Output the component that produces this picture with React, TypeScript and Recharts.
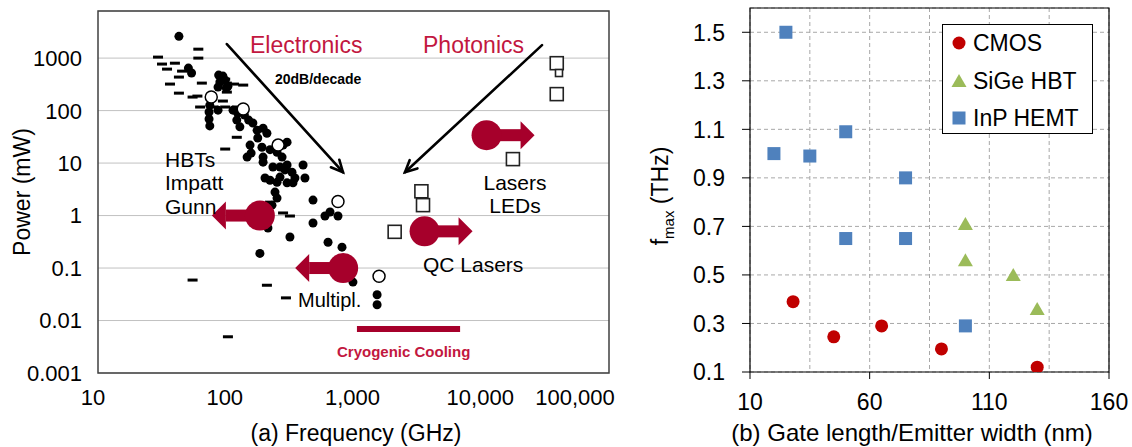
import React from 'react';
import {
  ScatterChart, Scatter, XAxis, YAxis, CartesianGrid,
  ReferenceLine, ReferenceArea, ReferenceDot, Legend,
} from 'recharts';

const FONT = '"Liberation Sans", Arial, Helvetica, sans-serif';
const CRIMSON = '#A6002B';
const CRIMSON_TEXT = '#C21740';

// ---- (a) output power vs frequency, [GHz, mW] ----
const solidStateDots: [number, number][] = [
  [43, 2600],
  [51, 645], [54, 520],
  [88, 475], [95, 455], [90, 350], [99, 380], [87, 280], [104, 290], [101, 270],
  [75, 127], [74, 94], [74, 69], [75, 51], [87, 102],
  [114, 102], [124, 90], [140, 82], [122, 66], [151, 66], [129, 49],
  [163, 58], [176, 42], [196, 46], [210, 37], [178, 30],
  [155, 22], [158, 15.5], [147, 13], [192, 20], [196, 13], [252, 16], [276, 13], [281, 22], [302, 25], [222, 18],
  [196, 10.4], [234, 8.4], [266, 8.4], [302, 9.2], [403, 9.2], [291, 7.4],
  [417, 5.2], [203, 5.2], [222, 4.7], [266, 5.4], [252, 4.3], [302, 4.2], [330, 6.7], [336, 4.2], [348, 5.2],
  [243, 2.8], [252, 2.15], [230, 1.58],
  [214, 0.58], [318, 0.39], [185, 0.19],
  [482, 1.97], [482, 0.72], [598, 0.98], [655, 1.17], [756, 0.98],
  [632, 0.31], [813, 0.25],
  [990, 0.054], [1530, 0.031], [1530, 0.02],
];

const dashMarks: [number, number][] = [
  [29.5, 1045], [61, 1480], [61, 1000], [31.7, 770], [40, 800], [34.7, 617],
  [45.5, 565], [43, 435], [36.6, 320], [43, 215], [65, 334], [60, 189],
  [99, 398], [102, 334], [137, 306], [116, 320], [102, 225], [95, 152],
  [63, 117], [80, 117], [99, 117], [122, 117], [55, 181], [122, 31], [99, 18.5],
  [222, 1.8], [281, 1.12], [318, 0.98],
  [55, 0.059], [210, 0.047], [296, 0.027], [104, 0.0049],
];

const openCircles: [number, number][] = [
  [77, 181], [137, 107], [257, 22], [756, 1.85], [1585, 0.07],
];

const laserSquares: [number, number][] = [
  [2100, 0.49], [3400, 2.9], [3500, 1.58], [17700, 11.9], [39000, 800], [39000, 206],
];
const laserSmall: [number, number][] = [[40600, 520]];

// crimson "pin" arrows: head points toward lower / higher frequency
const pinsLeft: [number, number][] = [[185, 1], [830, 0.1]];
const pinsRight: [number, number][] = [[3600, 0.5], [11000, 34]];

const electronicsArrow: [number, number][] = [[102, 1850], [827, 6.7]];
const photonicsArrow: [number, number][] = [[29900, 1770], [2530, 6.7]];
const cryoBand: [number, number][] = [[1064, 0.0069], [6830, 0.0069]];

const freqTicks = [10, 100, 1000, 10000, 100000];
const powerTicks = [0.001, 0.01, 0.1, 1, 10, 100, 1000];

// ---- (b) fmax vs gate length / emitter width, [nm, THz] ----
const cmosPts: [number, number][] = [[28, 0.39], [45, 0.245], [65, 0.29], [90, 0.195], [130, 0.12]];
const sigePts: [number, number][] = [[100, 0.71], [100, 0.56], [120, 0.5], [130, 0.36]];
const inpPts: [number, number][] = [
  [25, 1.5], [20, 1.0], [35, 0.99], [50, 1.09], [75, 0.9], [50, 0.65], [75, 0.65], [100, 0.29],
];
const gateTicks = [10, 35, 60, 85, 110, 135, 160];
const gateLabels = [10, 60, 110, 160];
const fmaxTicks = [0.1, 0.3, 0.5, 0.7, 0.9, 1.1, 1.3, 1.5];

const legendItems = [
  { name: 'CMOS', kind: 'circle', color: '#C00000' },
  { name: 'SiGe HBT', kind: 'triangle', color: '#9BBB59' },
  { name: 'InP HEMT', kind: 'square', color: '#4F81BD' },
];

const fp = (pts: [number, number][]) => pts.map(([f, p]) => ({ f, p }));
const gf = (pts: [number, number][]) => pts.map(([g, fmax]) => ({ g, fmax }));
const seg = (pts: [number, number][]) => pts.map(([x, y]) => ({ x, y }));

// marker shapes
const blackDot = (p: any) => <circle cx={p.cx} cy={p.cy} r={4.5} fill="#000" />;
const dash = (p: any) => <rect x={p.cx - 5} y={p.cy - 1.5} width={10} height={3} fill="#000" />;
const ring = (p: any) => (
  <circle cx={p.cx} cy={p.cy} r={6} fill="#fff" stroke="#000" strokeWidth={1.5} />
);
const openSquare = (s: number) => (p: any) => (
  <rect x={p.cx - s / 2} y={p.cy - s / 2} width={s} height={s} fill="#fff" stroke="#222" strokeWidth={1.6} />
);

const pin = (dir: 1 | -1) => (p: any) => {
  const { cx, cy } = p;
  const tip = cx + dir * 48;
  const base = cx + dir * 34;
  return (
    <g fill={CRIMSON}>
      <rect x={dir > 0 ? cx : base} y={cy - 6} width={35} height={12} />
      <polygon points={`${tip},${cy} ${base},${cy - 14} ${base},${cy + 14}`} />
      <circle cx={cx} cy={cy} r={15} />
    </g>
  );
};

const arrowLine = (p: any) => {
  const { x1, y1, x2, y2 } = p;
  const a = Math.atan2(y2 - y1, x2 - x1);
  const L = 13;
  const s = 0.45;
  const h1 = `${x2 - L * Math.cos(a - s)},${y2 - L * Math.sin(a - s)}`;
  const h2 = `${x2 - L * Math.cos(a + s)},${y2 - L * Math.sin(a + s)}`;
  return (
    <g stroke="#000" strokeWidth={2.6} fill="none" strokeLinecap="round">
      <line x1={x1} y1={y1} x2={x2} y2={y2} />
      <polyline points={`${h1} ${x2},${y2} ${h2}`} />
    </g>
  );
};

const redDot = (p: any) => <circle cx={p.cx} cy={p.cy} r={6.5} fill="#C00000" />;
const greenTri = (p: any) => (
  <polygon points={`${p.cx},${p.cy - 7} ${p.cx + 7.5},${p.cy + 6} ${p.cx - 7.5},${p.cy + 6}`} fill="#9BBB59" />
);
const blueSq = (p: any) => <rect x={p.cx - 6.5} y={p.cy - 6.5} width={13} height={13} fill="#4F81BD" />;

const FreqTick = ({ x, y, payload, index }: any) => {
  const shift = index === 0 ? -5 : index === freqTicks.length - 1 ? -21 : -1;
  return (
    <text x={x + shift} y={y + 24} textAnchor="middle" fontSize={22} fontFamily={FONT} fill="#000">
      {Number(payload.value).toLocaleString('en-US')}
    </text>
  );
};

const PowerTick = ({ x, y, payload }: any) => (
  <text x={x - 8} y={y} dy="0.36em" textAnchor="end" fontSize={22} fontFamily={FONT} fill="#000">
    {String(payload.value)}
  </text>
);

const GateTick = ({ x, y, payload }: any) => {
  if (!gateLabels.includes(payload.value)) return null;
  return (
    <g>
      <line x1={x} y1={y - 8} x2={x} y2={y - 1} stroke="#000" />
      <text x={x} y={y + 30} textAnchor="middle" fontSize={23} fontFamily={FONT} fill="#000">
        {payload.value}
      </text>
    </g>
  );
};

const FmaxTick = ({ x, y, payload }: any) => (
  <text x={x - 15} y={y} dy="0.36em" textAnchor="end" fontSize={23} fontFamily={FONT} fill="#000">
    {Number(payload.value).toFixed(1)}
  </text>
);

const LegendBox = () => (
  <div style={{
    position: 'relative', width: 151, height: 110, boxSizing: 'border-box',
    border: '1px solid #000', background: '#fff', fontFamily: FONT, fontSize: 23,
  }}>
    {legendItems.map((it, i) => (
      <div key={it.name} style={{ position: 'absolute', left: 0, top: 5 + i * 37.5, height: 26, display: 'flex', alignItems: 'center' }}>
        <svg width={30} height={26}>
          {it.kind === 'circle' && <circle cx={16} cy={13} r={6.5} fill={it.color} />}
          {it.kind === 'triangle' && <polygon points="16,6 23.5,19 8.5,19" fill={it.color} />}
          {it.kind === 'square' && <rect x={9.5} y={6.5} width={13} height={13} fill={it.color} />}
        </svg>
        <span style={{ color: '#000', lineHeight: '26px' }}>{it.name}</span>
      </div>
    ))}
  </div>
);

const txt = { fontFamily: FONT, fill: '#000' } as const;

export default function App() {
  return (
    <div style={{ position: 'absolute', left: 0, top: 0, width: 1132, height: 447, background: '#fff' }}>
      <div style={{ position: 'absolute', left: 0, top: 0 }}>
        <ScatterChart width={620} height={447} margin={{ top: 11, right: 11, bottom: 44, left: 0 }}>
          <CartesianGrid vertical={false} stroke="#c2c2c2" />
          <XAxis
            dataKey="f" type="number" scale="log" domain={[10, 100000]} allowDataOverflow
            ticks={freqTicks} height={30} axisLine={false} tickLine={false} tick={<FreqTick />}
          />
          <YAxis
            dataKey="p" type="number" scale="log" domain={[0.001, 7900]} allowDataOverflow
            ticks={powerTicks} width={98} axisLine={false} tickLine={false} tick={<PowerTick />}
          />
          <ReferenceLine segment={seg(cryoBand)} stroke={CRIMSON} strokeWidth={6} />
          <Scatter data={fp(dashMarks)} shape={dash} isAnimationActive={false} />
          <Scatter data={fp(solidStateDots)} shape={blackDot} isAnimationActive={false} />
          <Scatter data={fp(openCircles)} shape={ring} isAnimationActive={false} />
          <Scatter data={fp(laserSquares)} shape={openSquare(13)} isAnimationActive={false} />
          <Scatter data={fp(laserSmall)} shape={openSquare(7)} isAnimationActive={false} />
          <ReferenceLine segment={seg(electronicsArrow)} shape={arrowLine} />
          <ReferenceLine segment={seg(photonicsArrow)} shape={arrowLine} />
          {pinsLeft.map(([f, p]) => (
            <ReferenceDot key={`l${f}`} x={f} y={p} shape={pin(-1)} />
          ))}
          {pinsRight.map(([f, p]) => (
            <ReferenceDot key={`r${f}`} x={f} y={p} shape={pin(1)} />
          ))}
          <ReferenceArea x1={10} x2={100000} y1={0.001} y2={7900} fill="none" stroke="#404040" strokeWidth={1.5} />
        </ScatterChart>
      </div>

      <div style={{ position: 'absolute', left: 620, top: 0 }}>
        <ScatterChart width={512} height={447} margin={{ top: 8, right: 23, bottom: 45, left: 0 }}>
          <CartesianGrid stroke="#a8a8a8" strokeDasharray="4 3" />
          <XAxis
            dataKey="g" type="number" domain={[10, 160]} allowDataOverflow ticks={gateTicks}
            height={30} axisLine={false} tickLine={false} tick={<GateTick />}
          />
          <YAxis
            dataKey="fmax" type="number" domain={[0.1, 1.6]} allowDataOverflow ticks={fmaxTicks}
            width={130} axisLine={false} tickLine={{ stroke: '#000' }} tickSize={8} tick={<FmaxTick />}
          />
          <ReferenceArea x1={10} x2={160} y1={0.1} y2={1.6} fill="none" stroke="#000" strokeWidth={1.2} />
          <Scatter name="CMOS" data={gf(cmosPts)} shape={redDot} isAnimationActive={false} />
          <Scatter name="SiGe HBT" data={gf(sigePts)} shape={greenTri} isAnimationActive={false} />
          <Scatter name="InP HEMT" data={gf(inpPts)} shape={blueSq} isAnimationActive={false} />
          <Legend
            layout="vertical" align="center" verticalAlign="middle"
            content={() => <LegendBox />}
            wrapperStyle={{ left: 322, top: 24, width: 151, height: 110 }}
          />
        </ScatterChart>
      </div>

      <svg width={1132} height={447} style={{ position: 'absolute', left: 0, top: 0, pointerEvents: 'none' }}>
        <text {...txt} fontSize={23} textAnchor="middle" transform="translate(30,192) rotate(-90)">Power (mW)</text>
        <text {...txt} fontSize={23} textAnchor="middle" x={356} y={441}>(a) Frequency (GHz)</text>
        <text {...txt} fontSize={24} textAnchor="middle" x={912} y={441}>(b) Gate length/Emitter width (nm)</text>
        <text {...txt} fontSize={23} textAnchor="middle" transform="translate(668,196) rotate(-90)">
          f<tspan fontSize={15} dy={6}>max</tspan><tspan dy={-6}> (THz)</tspan>
        </text>

        <text fontFamily={FONT} fill={CRIMSON_TEXT} fontSize={23} x={250} y={53}>Electronics</text>
        <text fontFamily={FONT} fill={CRIMSON_TEXT} fontSize={23} x={423} y={53}>Photonics</text>
        <text {...txt} fontSize={14} fontWeight="bold" x={275} y={84}>20dB/decade</text>
        <text {...txt} fontSize={21} x={165} y={167}>HBTs</text>
        <text {...txt} fontSize={21} x={165} y={190}>Impatt</text>
        <text {...txt} fontSize={21} x={165} y={214}>Gunn</text>
        <text {...txt} fontSize={21} x={515} y={190} textAnchor="middle">Lasers</text>
        <text {...txt} fontSize={21} x={515} y={213} textAnchor="middle">LEDs</text>
        <text {...txt} fontSize={21} x={423} y={272}>QC Lasers</text>
        <text {...txt} fontSize={20} x={298} y={307}>Multipl.</text>
        <text fontFamily={FONT} fill={CRIMSON_TEXT} fontSize={15} fontWeight="bold" x={337} y={357}>Cryogenic Cooling</text>
      </svg>
    </div>
  );
}
